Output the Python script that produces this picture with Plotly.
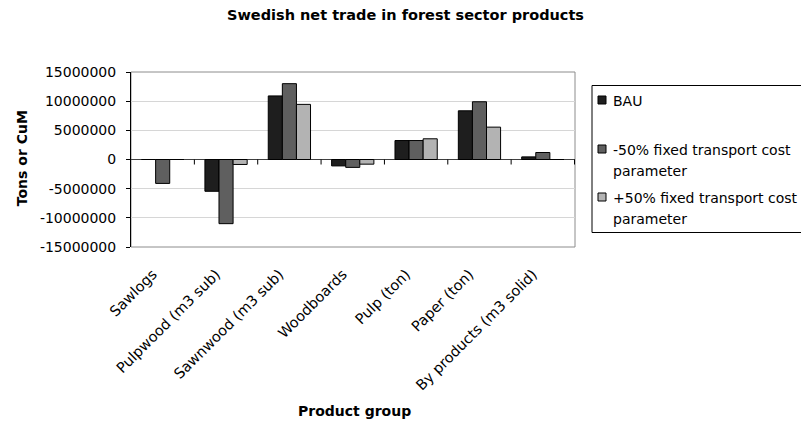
import plotly.graph_objects as go

# Product groups and net trade (tons or cubic metres) per scenario
categories = ["Sawlogs", "Pulpwood (m3 sub)", "Sawnwood (m3 sub)", "Woodboards",
              "Pulp (ton)", "Paper (ton)", "By products (m3 solid)"]
series_names = ["BAU", "-50% fixed transport cost parameter", "+50% fixed transport cost parameter"]
bau = [0, -5450000, 10900000, -1100000, 3250000, 8350000, 450000]
minus50 = [-4100000, -11000000, 13000000, -1350000, 3250000, 9900000, 1200000]
plus50 = [0, -850000, 9450000, -800000, 3550000, 5550000, 0]
y_ticks = [-15000000, -10000000, -5000000, 0, 5000000, 10000000, 15000000]
y_tick_labels = [str(v) for v in y_ticks]

colors = ["#1e1e1e", "#5f5f5f", "#b3b3b3"]
values = [bau, minus50, plus50]

FONT = "DejaVu Sans, Liberation Sans, Arial, sans-serif"
W, H = 801, 422
L, R, T, B = 131, 226, 72, 175
PW, PH = W - L - R, H - T - B


def px_x(px):
    return (px - L) / PW


def px_y(py):
    return (H - B - py) / PH


fig = go.Figure()
for name, vals, col in zip(series_names, values, colors):
    fig.add_trace(go.Bar(
        x=categories, y=vals, name=name,
        marker=dict(color=col, line=dict(color="#000000", width=1)),
        showlegend=False,
    ))

shapes = []
# plot-area frame
shapes.append(dict(type="rect", xref="paper", yref="paper", x0=0, x1=1, y0=0, y1=1,
                   line=dict(color="#8c8c8c", width=1), layer="below"))
# category boundary ticks hanging from the zero line
for k in range(1, len(categories) + 1):
    shapes.append(dict(type="line", xref="x", yref="y", ysizemode="pixel", yanchor=0,
                       x0=k - 0.5, x1=k - 0.5, y0=0, y1=-5,
                       line=dict(color="#000000", width=1)))

# legend box and entries
shapes.append(dict(type="rect", xref="paper", yref="paper",
                   x0=px_x(592), x1=px_x(806), y0=px_y(232.5), y1=px_y(85.5),
                   line=dict(color="#000000", width=1), fillcolor="white"))
annotations = []
legend_rows = [100, 149, 197]
line_step = 21
for name, col, yc in zip(series_names, colors, legend_rows):
    shapes.append(dict(type="rect", xref="paper", yref="paper",
                       x0=px_x(598), x1=px_x(606), y0=px_y(yc + 4), y1=px_y(yc - 4),
                       line=dict(color="#000000", width=1), fillcolor=col))
    lines = name.replace(" parameter", "\nparameter").split("\n")
    for i, line in enumerate(lines):
        annotations.append(dict(text=line, xref="paper", yref="paper", x=px_x(611),
                                y=px_y(yc + 1 + i * line_step), xanchor="left", yanchor="middle",
                                align="left", showarrow=False,
                                font=dict(family=FONT, size=14, color="#000000")))

# titles
annotations.append(dict(text="<b>Swedish net trade in forest sector products</b>",
                        xref="paper", yref="paper", x=px_x(405), y=px_y(15),
                        xanchor="center", yanchor="middle", showarrow=False,
                        font=dict(family=FONT, size=14.5, color="#000000")))
annotations.append(dict(text="<b>Product group</b>", xref="paper", yref="paper",
                        x=px_x(354), y=px_y(411), xanchor="center", yanchor="middle",
                        showarrow=False, font=dict(family=FONT, size=14, color="#000000")))
annotations.append(dict(text="<b>Tons or CuM</b>", xref="paper", yref="paper",
                        x=px_x(21.5), y=px_y(158.7), xanchor="center", yanchor="middle",
                        textangle=-90, showarrow=False,
                        font=dict(family=FONT, size=14, color="#000000")))

fig.update_layout(
    width=W, height=H,
    margin=dict(l=L, r=R, t=T, b=B),
    paper_bgcolor="white", plot_bgcolor="white",
    barmode="group", bargap=0.333, bargroupgap=0,
    shapes=shapes, annotations=annotations,
    font=dict(family=FONT, size=14, color="#000000"),
    xaxis=dict(tickangle=-45, showgrid=False, zeroline=False, showline=False,
               ticks="", ticklabelstandoff=15, ticklabelshift=-10,
               tickfont=dict(family=FONT, size=14.5, color="#000000")),
    yaxis=dict(range=[-15000000, 15000000], tickvals=y_ticks, ticktext=y_tick_labels,
               showgrid=True, gridcolor="#d6d6d6", gridwidth=1,
               zeroline=True, zerolinecolor="#404040", zerolinewidth=1,
               showline=True, linecolor="#000000", linewidth=1,
               ticks="outside", ticklen=4, tickcolor="#000000", ticklabelstandoff=7,
               tickfont=dict(family=FONT, size=14, color="#000000")),
)

fig.write_html("out.html")
